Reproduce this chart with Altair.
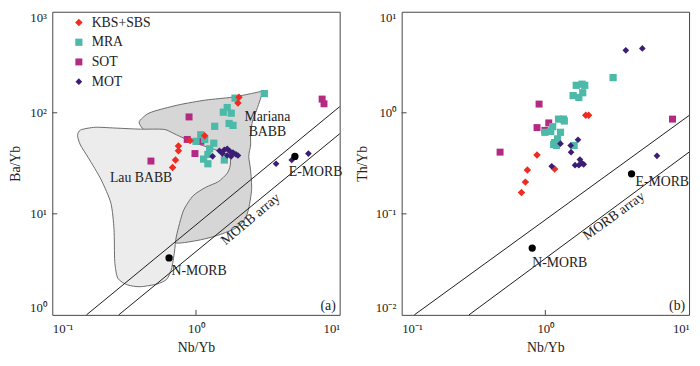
import altair as alt
import pandas as pd

# ---------------- data ----------------
GROUPS = ["KBS+SBS", "MRA", "SOT", "MOT"]
COLORS = ["#ef2c23", "#4dbaa9", "#b42a82", "#3b1d74"]
SHAPES = ["diamond", "square", "square", "diamond"]
SIZES = [58, 46, 42, 32]

# Panel (a): Ba/Yb vs Nb/Yb
a_kbs_x = [1.99, 1.96, 1.15, 0.91, 0.755, 0.755, 0.72, 0.687]
a_kbs_y = [142.6, 125.0, 59.3, 53.3, 46.9, 42.1, 34.1, 28.7]
a_mra_x = [2.99, 1.87, 1.65, 1.76, 1.55, 1.70, 1.81, 1.35, 1.08, 1.15, 1.0, 1.33, 1.245, 1.21, 1.13, 1.21, 1.575]
a_mra_y = [155, 139.6, 112.7, 99.1, 101.4, 78.4, 75.1, 73.5, 60.6, 54.5, 52.2, 50.0, 44.0, 38.7, 34.8, 31.3, 34.1]
a_sot_x = [0.486, 0.895, 0.869, 1.081, 0.984, 7.55, 7.78]
a_sot_y = [33.3, 91.0, 54.5, 52.2, 39.5, 136.7, 122.8]
a_mot_x = [1.306, 1.456, 1.575, 1.65, 1.73, 1.81, 1.90, 1.527, 1.65, 1.757, 1.96, 3.61, 4.64, 6.06]
a_mot_y = [37.1, 42.1, 43.0, 44.0, 41.3, 40.4, 38.7, 39.5, 37.8, 37.1, 37.8, 31.3, 34.1, 39.5]

# Panel (b): Th/Yb vs Nb/Yb
b_kbs_x = [1.91, 2.0, 0.875, 0.75, 0.726, 0.682, 1.16]
b_kbs_y = [0.944, 0.944, 0.383, 0.272, 0.206, 0.163, 0.278]
b_mra_x = [2.96, 1.64, 1.80, 1.88, 1.82, 1.56, 1.71, 1.235, 1.335, 1.355, 1.125, 1.09, 0.993, 1.274, 1.216, 1.159, 1.143, 1.196, 1.585]
b_mra_y = [2.23, 1.87, 1.92, 1.87, 1.58, 1.48, 1.42, 0.866, 0.866, 0.83, 0.729, 0.655, 0.641, 0.641, 0.552, 0.507, 0.485, 0.475, 0.475]
b_sot_x = [0.484, 0.904, 0.875, 1.056, 0.993, 7.67]
b_sot_y = [0.408, 1.22, 0.714, 0.794, 0.670, 0.866]
b_mot_x = [3.63, 4.73, 5.98, 1.274, 1.50, 1.687, 1.51, 1.107, 1.61, 1.74, 1.80, 1.85, 1.71]
b_mot_y = [4.15, 4.34, 0.375, 0.495, 0.475, 0.541, 0.408, 0.296, 0.303, 0.344, 0.316, 0.309, 0.303]

# Reference compositions
a_morb_name = ["N-MORB", "E-MORB"]
a_morb_x = [0.65, 4.88]
a_morb_y = [3.66, 37.0]
b_morb_x = [0.81, 3.98]
b_morb_y = [0.0458, 0.249]

# MORB array bounding lines (start, end)
a_line_id = ["upper", "upper", "lower", "lower"]
a_line_x = [0.173, 10, 0.290, 10]
a_line_y = [1, 115, 1, 62]
b_line_x = [0.1225, 10, 0.294, 10]
b_line_y = [0.01, 0.94, 0.01, 0.408]

# Lau BABB field outline
lau_x = [0.157, 0.199, 0.286, 0.409, 0.560, 0.625, 0.731, 0.955, 1.306, 1.60, 1.73, 1.73, 1.65, 1.43, 1.17,
         0.955, 0.817, 0.731, 0.708, 0.676, 0.625, 0.535, 0.409, 0.334, 0.286, 0.272, 0.269, 0.256, 0.219,
         0.179, 0.157, 0.150]
lau_y = [67.5, 71.9, 70.4, 68.9, 68.9, 67.5, 60.6, 51.1, 44.0, 39.5, 35.5, 29.9, 25.2, 20.8, 18.3,
         15.1, 10.7, 6.03, 4.19, 2.85, 2.25, 2.02, 1.90, 1.98, 2.30, 3.38, 7.0, 12.7, 21.7,
         35.5, 48.0, 59.3]
# Mariana BABB field outline
mar_x = [0.403, 0.457, 0.535, 0.766, 1.17, 1.786, 2.44, 2.86, 2.86, 2.68, 2.48, 2.40, 2.40, 2.33, 2.40,
         2.44, 2.33, 2.19, 1.87, 1.368, 1.0, 0.708, 0.676, 0.676, 0.625, 0.535, 0.423]
mar_y = [81.8, 97.0, 105.7, 120.2, 133.7, 142.6, 155.3, 162.1, 148.8, 112.7, 83.6, 63.2, 48.0, 37.1, 26.9,
         17.5, 11.4, 8.85, 7.15, 6.03, 5.42, 5.19, 7.46, 14.2, 26.9, 51.1, 70.4]

# Annotations
a_lab_text = ["Lau BABB", "N-MORB", "E-MORB"]
a_lab_x = [0.252, 0.676, 4.43]
a_lab_y = [22.7, 2.73, 25.8]
a_mar_text = ["Mariana\nBABB"]
a_mar_x = [3.14]
a_mar_y = [91.0]
a_arr_x = [2.40]
a_arr_y = [8.85]
b_lab_text = ["N-MORB", "E-MORB"]
b_lab_x = [0.81, 4.24]
b_lab_y = [0.0325, 0.206]
b_arr_x = [3.0]
b_arr_y = [0.095]

X_TICKS = [0.1, 1, 10]
A_Y_TICKS = [1, 10, 100, 1000]
B_Y_TICKS = [0.01, 0.1, 1, 10]

# ---------------- layout / style ----------------
H = 308
WA, WB = 292, 292
FONT = "Liberation Serif"
INK = "#222222"
SUP = ("datum.value < 0.05 ? '10⁻²' : datum.value < 0.5 ? '10⁻¹' : datum.value < 5 ? '10⁰' : "
       "datum.value < 50 ? '10¹' : datum.value < 500 ? '10²' : '10³'")


def xenc():
    return alt.X("x:Q",
                 scale=alt.Scale(type="log", domain=[0.1, 10], nice=False),
                 axis=alt.Axis(values=X_TICKS, labelExpr=SUP, labelFlush=True, ticks=False,
                               domain=False, grid=False, title="Nb/Yb", labelPadding=8, titlePadding=5))


def yenc(dom, ticks, title):
    return alt.Y("y:Q",
                 scale=alt.Scale(type="log", domain=dom, nice=False),
                 axis=alt.Axis(values=ticks, labelExpr=SUP, labelFlush=True, ticks=False,
                               domain=False, grid=False, title=title, labelPadding=6, titlePadding=6))


def pts_df(lists):
    frames = []
    for g, xs, ys in lists:
        frames.append(pd.DataFrame({"x": xs, "y": ys, "group": g}))
    return pd.concat(frames, ignore_index=True)


def panel(points, morb_x, morb_y, line_x, line_y, lab_text, lab_x, lab_y, arr_x, arr_y, arr_angle,
          ydom, yticks, ytitle, letter, width, legend):
    X = xenc()
    Y = yenc(ydom, yticks, ytitle)
    layers = []

    lines_df = pd.DataFrame({"x": line_x, "y": line_y, "id": a_line_id})
    layers.append(alt.Chart(lines_df).mark_line(color="#1a1a1a", strokeWidth=1).encode(
        x=X, y=Y, detail="id:N"))

    leg = None
    if legend:
        leg = alt.Legend(orient="none", legendX=20, legendY=4, title=None, labelFont=FONT,
                         labelFontSize=14, labelColor=INK, symbolSize=30, rowPadding=6,
                         labelOffset=6, padding=0, symbolStrokeWidth=0)
    layers.append(alt.Chart(points).mark_point(filled=True, opacity=1).encode(
        x=X, y=Y,
        color=alt.Color("group:N", scale=alt.Scale(domain=GROUPS, range=COLORS), legend=leg),
        shape=alt.Shape("group:N", scale=alt.Scale(domain=GROUPS, range=SHAPES), legend=leg),
        size=alt.Size("group:N", scale=alt.Scale(domain=GROUPS, range=SIZES), legend=None),
    ))

    morb_df = pd.DataFrame({"x": morb_x, "y": morb_y, "name": a_morb_name})
    layers.append(alt.Chart(morb_df).mark_circle(color="#000000", size=55, opacity=1).encode(x=X, y=Y))

    lab_df = pd.DataFrame({"x": lab_x, "y": lab_y, "t": lab_text})
    layers.append(alt.Chart(lab_df).mark_text(font=FONT, fontSize=14, align="left", baseline="middle",
                                              color=INK).encode(x=X, y=Y, text="t:N"))

    arr_df = pd.DataFrame({"x": arr_x, "y": arr_y, "t": ["MORB array"]})
    layers.append(alt.Chart(arr_df).mark_text(font=FONT, fontSize=14, align="center", baseline="middle",
                                              angle=arr_angle, color=INK).encode(x=X, y=Y, text="t:N"))

    let_df = pd.DataFrame({"t": [letter]})
    layers.append(alt.Chart(let_df).mark_text(font=FONT, fontSize=14, align="right", baseline="bottom",
                                              color=INK).encode(x=alt.value(width - 4), y=alt.value(H - 2),
                                                                text="t:N"))

    # inside tick marks at the inner decades
    xt_df = pd.DataFrame({"x": X_TICKS[1:-1]})
    layers.append(alt.Chart(xt_df).mark_rule(color="#444444").encode(
        x=X, y=alt.value(H), y2=alt.value(H - 5)))
    yt_df = pd.DataFrame({"y": yticks[1:-1]})
    layers.append(alt.Chart(yt_df).mark_rule(color="#444444").encode(
        y=Y, x=alt.value(0), x2=alt.value(5)))
    return layers


a_points = pts_df([("SOT", a_sot_x, a_sot_y), ("MRA", a_mra_x, a_mra_y),
                   ("KBS+SBS", a_kbs_x, a_kbs_y), ("MOT", a_mot_x, a_mot_y)])
b_points = pts_df([("SOT", b_sot_x, b_sot_y), ("MRA", b_mra_x, b_mra_y),
                   ("KBS+SBS", b_kbs_x, b_kbs_y), ("MOT", b_mot_x, b_mot_y)])

lau_df = pd.DataFrame({"x": lau_x, "y": lau_y, "o": list(range(len(lau_x)))})
mar_df = pd.DataFrame({"x": mar_x, "y": mar_y, "o": list(range(len(mar_x)))})

Xa = xenc()
Ya = yenc([1, 1000], A_Y_TICKS, "Ba/Yb")
mar_layer = alt.Chart(mar_df).mark_line(fill="#d6d6d6", stroke="#6a6a6a", strokeWidth=1,
                                        interpolate="cardinal-closed", tension=0.3).encode(
    x=Xa, y=Ya, order="o:Q")
lau_layer = alt.Chart(lau_df).mark_line(fill="#ececec", stroke="#6a6a6a", strokeWidth=1,
                                        interpolate="cardinal-closed", tension=0.3).encode(
    x=Xa, y=Ya, order="o:Q")
mar_text = alt.Chart(pd.DataFrame({"x": a_mar_x, "y": a_mar_y, "t": a_mar_text})).mark_text(
    font=FONT, fontSize=14, align="center", baseline="middle", lineBreak="\n", color=INK,
    lineHeight=15).encode(x=Xa, y=Ya, text="t:N")

left_layers = panel(a_points, a_morb_x, a_morb_y, a_line_x, a_line_y, a_lab_text, a_lab_x, a_lab_y,
                    a_arr_x, a_arr_y, 320, [1, 1000], A_Y_TICKS, "Ba/Yb", "(a)", WA, True)
left = alt.layer(mar_layer, lau_layer, mar_text, *left_layers).properties(width=WA, height=H)

right_layers = panel(b_points, b_morb_x, b_morb_y, b_line_x, b_line_y, b_lab_text, b_lab_x, b_lab_y,
                     b_arr_x, b_arr_y, 324, [0.01, 10], B_Y_TICKS, "Th/Yb", "(b)", WB, False)
right = alt.layer(*right_layers).properties(width=WB, height=H)

chart = alt.hconcat(left, right, spacing=63, bounds="flush").resolve_scale(
    color="independent", shape="independent", size="independent"
).properties(padding=0).configure_view(stroke="#444444", strokeWidth=1).configure_axis(
    labelFont=FONT, labelFontSize=13, labelColor=INK, titleFont=FONT, titleFontSize=14,
    titleFontWeight="normal", titleColor=INK)

chart.save("out.html", embed_options={"renderer": "svg", "actions": False})
